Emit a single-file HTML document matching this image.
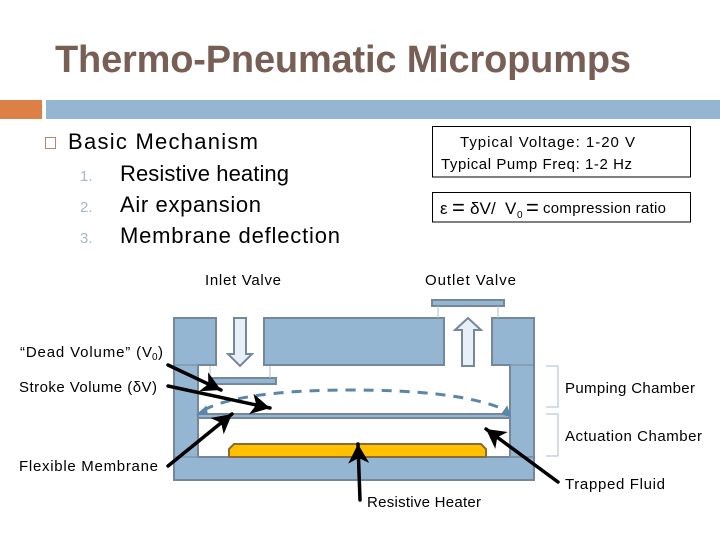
<!DOCTYPE html>
<html><head><meta charset="utf-8"><style>
html,body{margin:0;padding:0;background:#fff}
svg{display:block}
text{font-family:"Liberation Sans",sans-serif;fill:#000}
.l{font-size:15px}
.b{font-size:22px}
</style></head><body>
<svg width="720" height="540" viewBox="0 0 720 540" xmlns="http://www.w3.org/2000/svg">
<defs>
<marker id="a" markerWidth="7" markerHeight="7" refX="5.500" refY="3" orient="auto" markerUnits="strokeWidth"><path d="M0 0L5.500 3L0 6L1.500 3Z" fill="#000"/></marker>
</defs>
<text x="55" y="72" font-size="38" font-weight="bold" style="fill:#775F55" textLength="576" lengthAdjust="spacing">Thermo-Pneumatic Micropumps</text>
<rect x="0" y="100" width="42" height="19" fill="#DD8047"/>
<rect x="46" y="100" width="674" height="19" fill="#94B6D2"/>

<rect x="45.500" y="137.500" width="10" height="11" fill="none" stroke="#B08A70" stroke-width="1"/>
<text class="b" x="68" y="149" textLength="190" lengthAdjust="spacing">Basic Mechanism</text>
<text x="80" y="181" font-size="15" style="fill:#A5B8C8">1.</text>
<text x="80" y="212" font-size="15" style="fill:#A5B8C8">2.</text>
<text x="80" y="243" font-size="15" style="fill:#A5B8C8">3.</text>
<text class="b" x="120" y="181" textLength="169" lengthAdjust="spacing">Resistive heating</text>
<text class="b" x="120" y="212" textLength="141" lengthAdjust="spacing">Air expansion</text>
<text class="b" x="120" y="243" textLength="220" lengthAdjust="spacing">Membrane deflection</text>

<rect x="432.500" y="126.500" width="258" height="50.500" fill="#fff" stroke="#000" stroke-width="1"/>
<text class="l" x="460" y="147" textLength="175" lengthAdjust="spacing">Typical Voltage: 1-20 V</text>
<text class="l" x="441" y="169" textLength="191" lengthAdjust="spacing">Typical Pump Freq: 1-2 Hz</text>
<rect x="432.500" y="192.500" width="258" height="29.500" fill="#fff" stroke="#000" stroke-width="1"/>
<text x="440" y="214" font-size="17">ε</text>
<text x="452" y="215" font-size="22">=</text>
<text x="470" y="214" font-size="17" textLength="21" lengthAdjust="spacingAndGlyphs">δV</text>
<text x="491" y="214" font-size="17">/</text>
<text x="505" y="214" font-size="17">V</text>
<text x="517" y="218" font-size="10">0</text>
<text x="526" y="215" font-size="22">=</text>
<text class="l" x="543" y="213" textLength="123" lengthAdjust="spacing">compression ratio</text>

<text class="l" x="205" y="285" textLength="76" lengthAdjust="spacing">Inlet Valve</text>
<text class="l" x="425" y="285" textLength="91" lengthAdjust="spacing">Outlet Valve</text>

<!-- body -->
<g fill="#94B6D2" stroke="#74889A" stroke-width="2">
<path d="M174 318H216V365H198V457H534V480H174Z"/>
<path d="M492 318H534V457H510V365H492Z"/>
<rect x="264" y="318" width="180" height="47"/>
<rect x="198" y="414" width="312" height="4"/>
<rect x="212" y="378" width="64" height="6"/>
<rect x="432" y="300" width="72" height="6"/>
</g>
<path d="M175 365H198M510 365H533M175 457H198M510 457H533" stroke="#7F97AC" stroke-width="1.500" fill="none"/>
<path d="M229 457V449L234 444H481L486 449V457Z" fill="#FFC000" stroke="#8A6A35" stroke-width="2"/>
<path d="M210 366V378M270 366V378M438 306V318M498 306V318" stroke="#A9BECF" stroke-width="1" fill="none"/>
<path d="M234 318H246V354H252L240 366L228 354H234Z" fill="#E8EFF6" stroke="#74889A" stroke-width="2"/>
<path d="M462 366H474V330H481L468 318L455 330H462Z" fill="#E8EFF6" stroke="#74889A" stroke-width="2"/>

<path d="M204 410C228 397 280 390 350 390C415 390 470 395 503 409" fill="none" stroke="#5B86A8" stroke-width="3" stroke-dasharray="10 8"/>
<path d="M198 414L206 407L207 414ZM510 416L507 407L502 414Z" stroke="#5B86A8" stroke-width="1.500" fill="#5B86A8"/>

<!-- brackets -->
<path d="M546 366H558V407H546M546 414H558V456H546" fill="none" stroke="#A9BECF" stroke-width="1"/>

<!-- callout arrows -->
<g stroke="#000" stroke-width="3.500" fill="none" stroke-linecap="round">
<path d="M168 365L221 390" marker-end="url(#a)"/>
<path d="M168 386L270 408" marker-end="url(#a)"/>
<path d="M168 466L232 414" marker-end="url(#a)"/>
<path d="M360 500L358 444" marker-end="url(#a)"/>
<path d="M558 482L486 429" marker-end="url(#a)"/>
</g>

<text class="l" x="20" y="357" textLength="132" lengthAdjust="spacing">“Dead Volume” (V</text>
<text x="152" y="360" font-size="10">0</text>
<text class="l" x="158" y="357">)</text>
<text class="l" x="19" y="392" textLength="138" lengthAdjust="spacing">Stroke Volume (δV)</text>
<text class="l" x="19" y="471" textLength="139" lengthAdjust="spacing">Flexible Membrane</text>
<text class="l" x="367" y="507" textLength="114" lengthAdjust="spacing">Resistive Heater</text>
<text class="l" x="565" y="393" textLength="130" lengthAdjust="spacing">Pumping Chamber</text>
<text class="l" x="565" y="441" textLength="137" lengthAdjust="spacing">Actuation Chamber</text>
<text class="l" x="565" y="489" textLength="100" lengthAdjust="spacing">Trapped Fluid</text>
</svg>
</body></html>
